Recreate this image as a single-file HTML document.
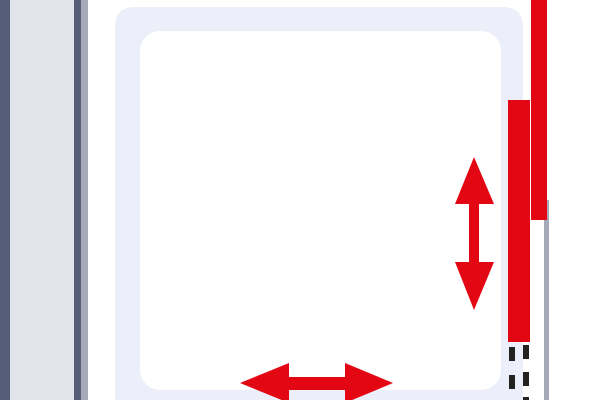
<!DOCTYPE html>
<html><head><meta charset="utf-8"><style>
html,body{margin:0;padding:0;background:#fff;width:612px;height:400px;overflow:hidden}
svg{display:block}
</style></head><body>
<svg width="612" height="400" viewBox="0 0 612 400" xmlns="http://www.w3.org/2000/svg">
<rect x="0" y="0" width="10" height="400" fill="#565d77"/>
<rect x="10" y="0" width="64" height="400" fill="#e1e5ea"/>
<rect x="74" y="0" width="7" height="400" fill="#565d77"/>
<rect x="81" y="0" width="7" height="400" fill="#a5a9b8"/>
<path d="M115,400 L115,27 Q115,7 135,7 L503,7 Q523,7 523,27 L523,400 Z" fill="#eceff9"/>
<rect x="140" y="31" width="361" height="359" rx="20" fill="#ffffff"/>
<rect x="544" y="200" width="5" height="200" fill="#a5a9b8"/>
<rect x="531" y="0" width="16" height="220" fill="#e30613"/>
<rect x="508" y="100" width="22" height="242" fill="#e30613"/>
<g fill="#222">
<rect x="509" y="347" width="6" height="14"/><rect x="523" y="345" width="6" height="14"/>
<rect x="509" y="375" width="6" height="14"/><rect x="523" y="372" width="6" height="14"/>
<rect x="523" y="397" width="6" height="3"/>
</g>
<polygon points="474,157 494,204 479,204 479,262 494,262 474,310 455,262 469,262 469,204 455,204" fill="#e30613"/>
<polygon points="240,383 289,363 289,377 345,377 345,363 393,383 345,403 345,390 289,390 289,403" fill="#e30613"/>
</svg>
</body></html>
